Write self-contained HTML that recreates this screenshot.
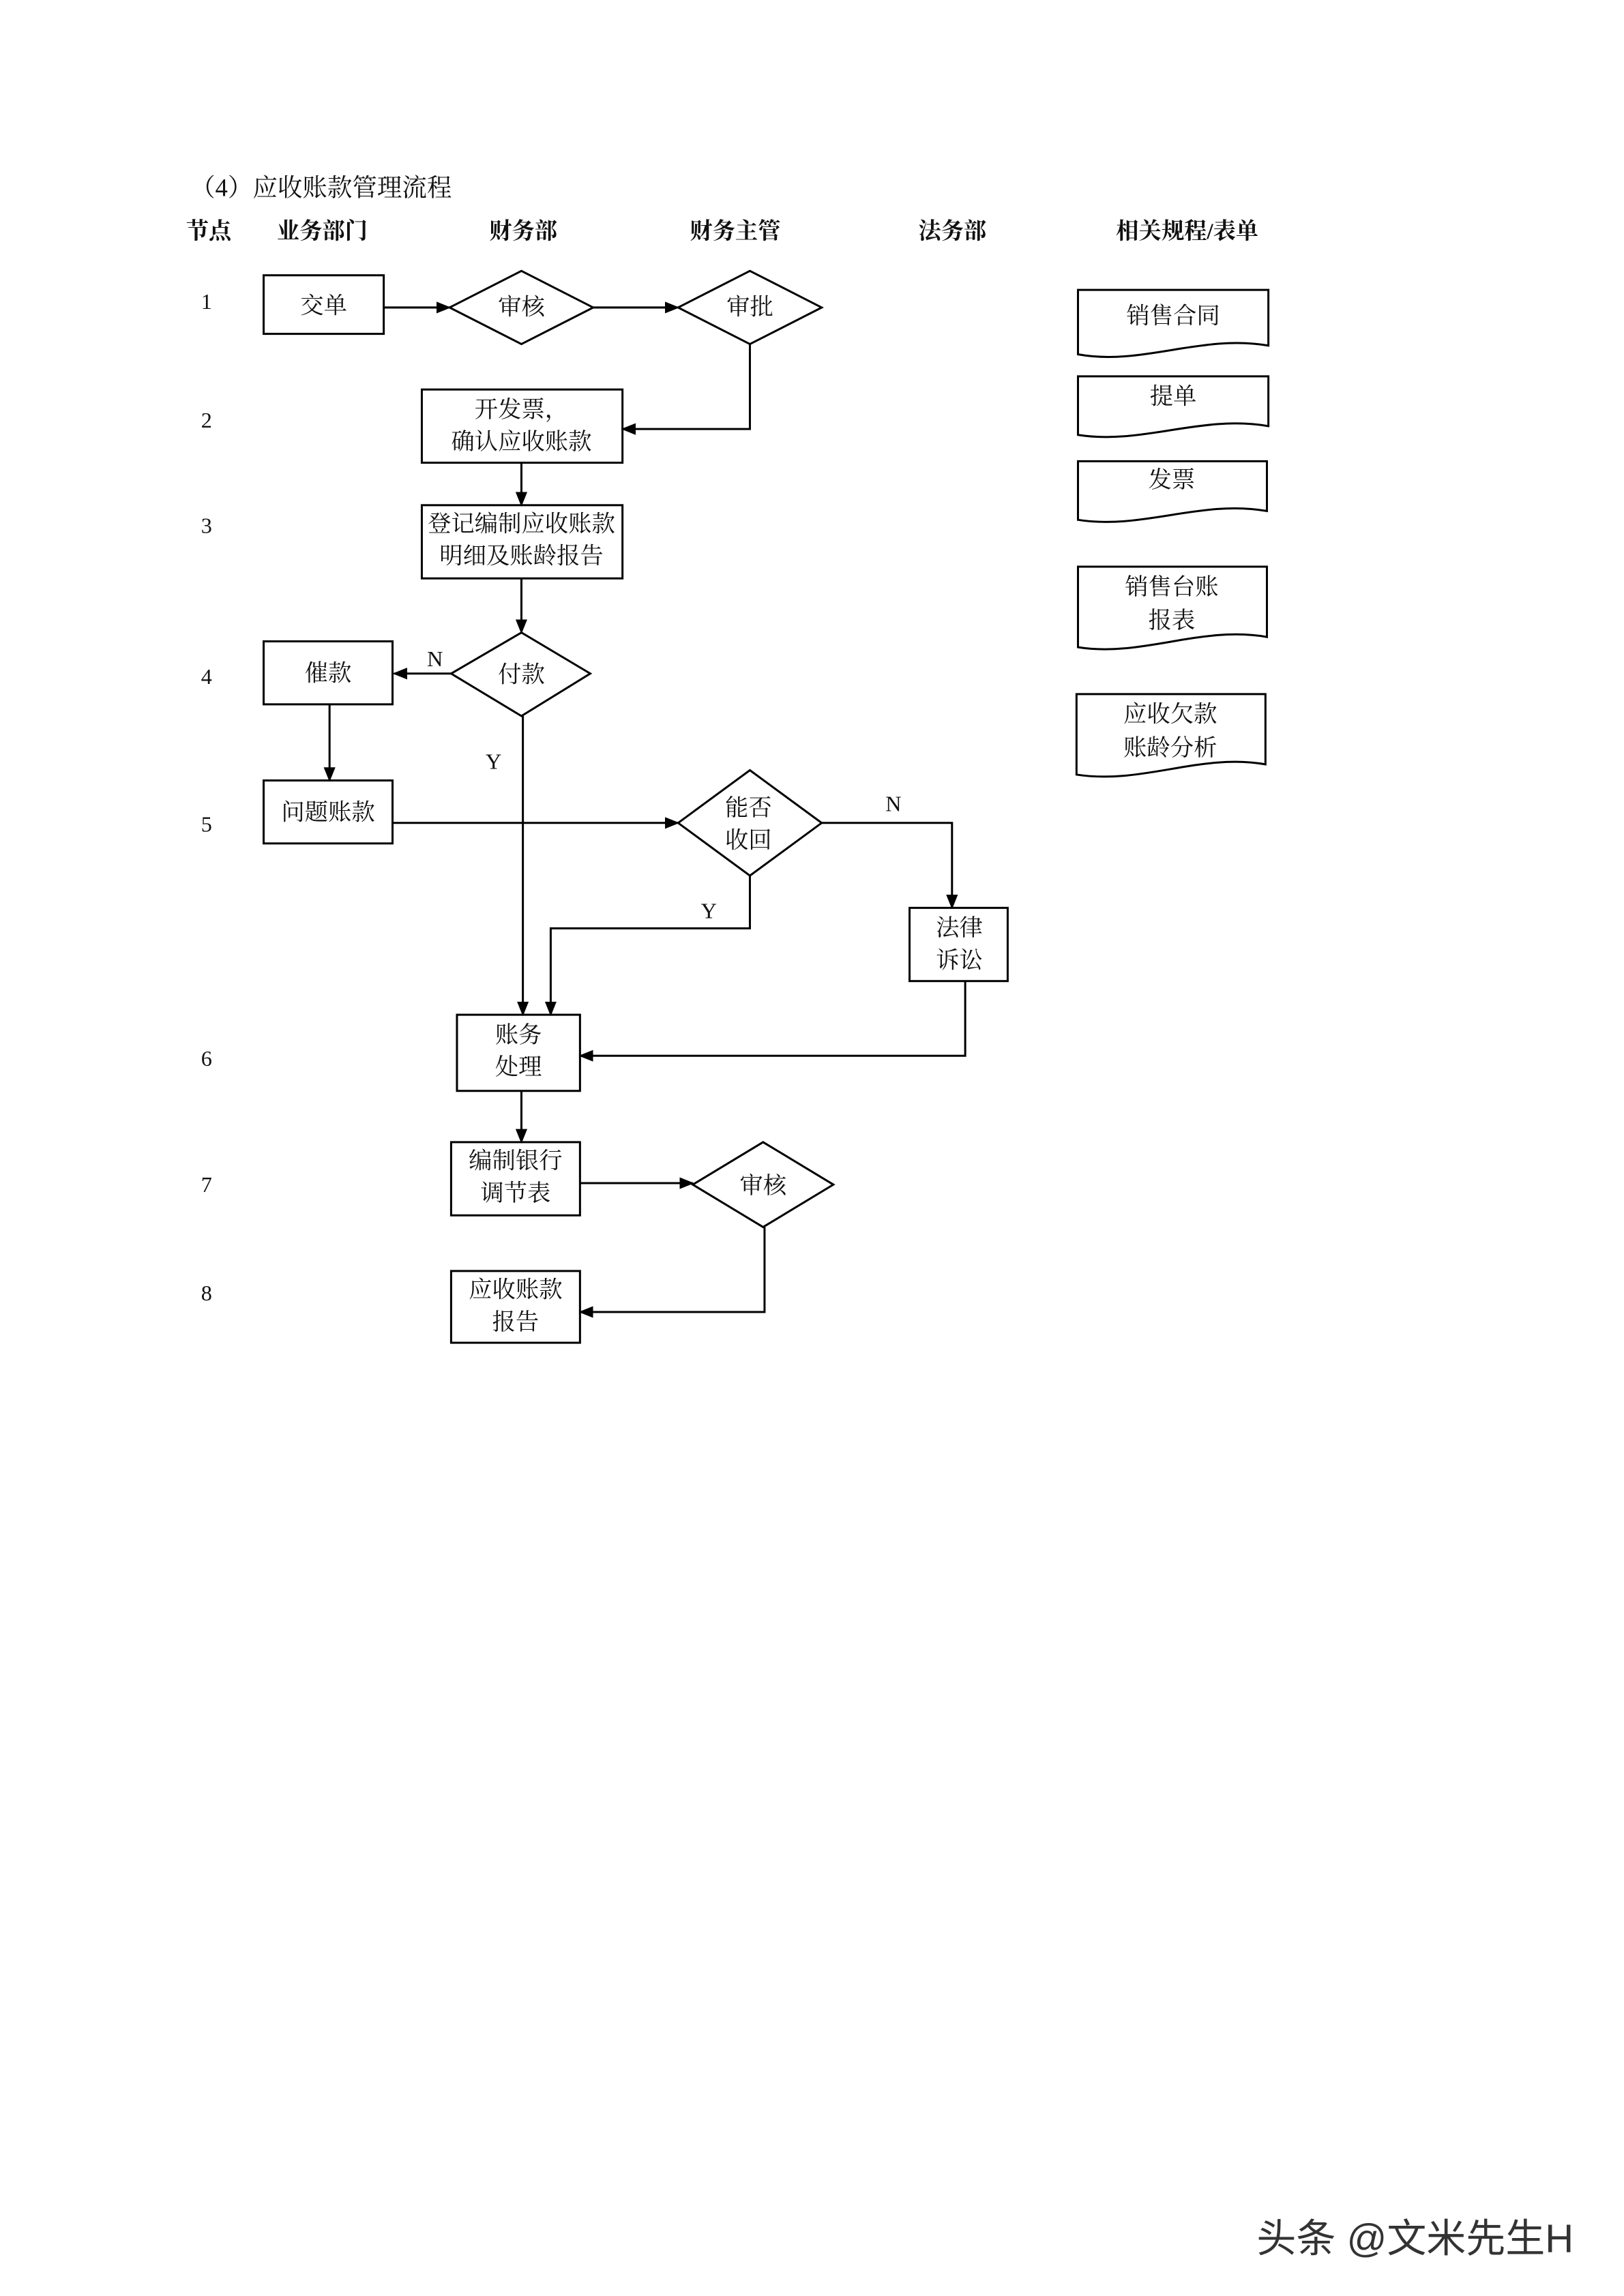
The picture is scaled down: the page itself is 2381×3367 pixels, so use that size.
<!DOCTYPE html>
<html><head><meta charset="utf-8"><style>
html,body{margin:0;padding:0;background:#fff}
svg{display:block}
text{font-family:"Liberation Serif","Noto Serif CJK SC",serif;fill:#111}
</style></head><body>
<svg width="2381" height="3367" viewBox="0 0 1108.8 1568" preserveAspectRatio="none" xmlns="http://www.w3.org/2000/svg">
<defs><marker id="a" markerWidth="10" markerHeight="10" refX="9" refY="5" orient="auto" markerUnits="userSpaceOnUse"><path d="M0,1 L10,5 L0,9 Z" fill="#000"/></marker></defs>
<g font-size="17">
<text x="130" y="134">（4）应收账款管理流程</text>
</g>
<g font-size="15.5" font-weight="bold">
<text x="127" y="163">节点</text>
<text x="189" y="163">业务部门</text>
<text x="334" y="163">财务部</text>
<text x="471" y="163">财务主管</text>
<text x="627" y="163">法务部</text>
<text x="762" y="163">相关规程/表单</text>
</g>
<g font-size="15" text-anchor="middle">
<text x="141" y="211">1</text><text x="141" y="292">2</text><text x="141" y="364">3</text><text x="141" y="467">4</text>
<text x="141" y="568">5</text><text x="141" y="728">6</text><text x="141" y="814">7</text><text x="141" y="888">8</text>
</g>
<g fill="#fff" stroke="#000" stroke-width="1.4">
<rect x="180" y="188" width="82" height="40"/>
<polygon points="307,210 356,185 405,210 356,235"/>
<polygon points="463,210 512,185 561,210 512,235"/>
<rect x="288" y="266" width="137" height="50"/>
<rect x="288" y="345" width="137" height="50"/>
<polygon points="308,460 356,432 403,460 356,489"/>
<rect x="180" y="438" width="88" height="43"/>
<rect x="180" y="533" width="88" height="43"/>
<polygon points="463,562 512,526 561,562 512,598"/>
<rect x="621" y="620" width="67" height="50"/>
<rect x="312" y="693" width="84" height="52"/>
<rect x="308" y="780" width="88" height="50"/>
<polygon points="473,809 521,780 569,809 521,838"/>
<rect x="308" y="868" width="88" height="49"/>
<path d="M736,198 H866 V236 C820,228 780,250 736,242 Z"/>
<path d="M736,257 H866 V291 C820,283 780,304 736,297 Z"/>
<path d="M736,315 H865 V349 C820,341 780,362 736,355 Z"/>
<path d="M736,387 H865 V435 C820,427 780,449 736,442 Z"/>
<path d="M735,474 H864 V522 C820,514 780,536 735,529 Z"/>
</g>
<g fill="none" stroke="#000" stroke-width="1.4" marker-end="url(#a)">
<path d="M262,210 H307"/>
<path d="M405,210 H463"/>
<path d="M512,235 V293 H425"/>
<path d="M356,316 V345"/>
<path d="M356,395 V432"/>
<path d="M308,460 H269"/>
<path d="M225,481 V533"/>
<path d="M268,562 H463"/>
<path d="M357,489 V693"/>
<path d="M561,562 H650 V620"/>
<path d="M512,598 V634 H376 V693"/>
<path d="M659,670 V721 H396"/>
<path d="M356,745 V780"/>
<path d="M396,808 H473"/>
<path d="M522,838 V896 H396"/>
</g>
<g font-size="16" text-anchor="middle">
<text x="221" y="214">交单</text>
<text x="356" y="215">审核</text>
<text x="512" y="215">审批</text>
<text x="356" y="285">开发票，</text><text x="356" y="307">确认应收账款</text>
<text x="356" y="363">登记编制应收账款</text><text x="356" y="385">明细及账龄报告</text>
<text x="356" y="466">付款</text>
<text x="224" y="465">催款</text>
<text x="224" y="560">问题账款</text>
<text x="511" y="557">能否</text><text x="511" y="579">收回</text>
<text x="655" y="639">法律</text><text x="655" y="661">诉讼</text>
<text x="354" y="712">账务</text><text x="354" y="734">处理</text>
<text x="352" y="798">编制银行</text><text x="352" y="820">调节表</text>
<text x="521" y="815">审核</text>
<text x="352" y="886">应收账款</text><text x="352" y="908">报告</text>
<text x="801" y="221">销售合同</text>
<text x="801" y="276">提单</text>
<text x="800" y="333">发票</text>
<text x="800" y="406">销售台账</text><text x="800" y="429">报表</text>
<text x="799" y="493">应收欠款</text><text x="799" y="516">账龄分析</text>
</g>
<g font-size="15" text-anchor="middle">
<text x="297" y="455">N</text>
<text x="337" y="525">Y</text>
<text x="610" y="554">N</text>
<text x="484" y="627">Y</text>
</g>
<text x="858" y="1538" font-size="27" fill="#333" style="font-family:'Liberation Sans','Noto Sans CJK SC',sans-serif;fill:#333">头条 @文米先生H</text>
</svg>
</body></html>
